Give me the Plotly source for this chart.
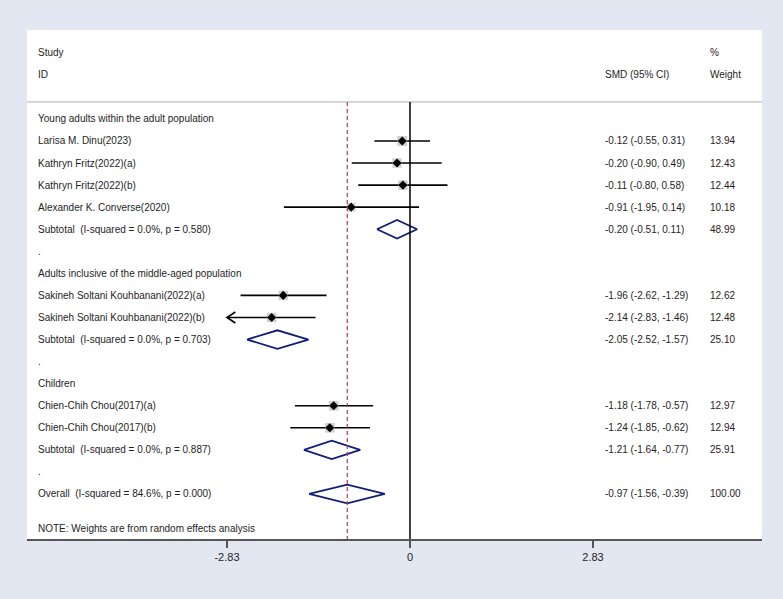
import plotly.graph_objects as go

# ---------------- data ----------------
studies = ["Larisa M. Dinu(2023)", "Kathryn Fritz(2022)(a)", "Kathryn Fritz(2022)(b)",
           "Alexander K. Converse(2020)", "Sakineh Soltani Kouhbanani(2022)(a)",
           "Sakineh Soltani Kouhbanani(2022)(b)", "Chien-Chih Chou(2017)(a)",
           "Chien-Chih Chou(2017)(b)"]
study_rows = [1, 2, 3, 4, 8, 9, 13, 14]
smd = [-0.12, -0.20, -0.11, -0.91, -1.96, -2.14, -1.18, -1.24]
ci_lo = [-0.55, -0.90, -0.80, -1.95, -2.62, -2.83, -1.78, -1.85]
ci_hi = [0.31, 0.49, 0.58, 0.14, -1.29, -1.46, -0.57, -0.62]
weights = [13.94, 12.43, 12.44, 10.18, 12.62, 12.48, 12.97, 12.94]

groups = ["Young adults within the adult population",
          "Adults inclusive of the middle-aged population", "Children"]
group_rows = [0, 7, 12]

pooled_labels = ["Subtotal  (I-squared = 0.0%, p = 0.580)",
                 "Subtotal  (I-squared = 0.0%, p = 0.703)",
                 "Subtotal  (I-squared = 0.0%, p = 0.887)",
                 "Overall  (I-squared = 84.6%, p = 0.000)"]
pooled_rows = [5, 10, 15, 17]
pooled_est = [-0.20, -2.05, -1.21, -0.97]
pooled_lo = [-0.51, -2.52, -1.64, -1.56]
pooled_hi = [0.11, -1.57, -0.77, -0.39]
pooled_w = [48.99, 25.10, 25.91, 100.00]

dot_rows = [6, 11, 16]
tick_vals = [-2.83, 0, 2.83]
tick_text = ["-2.83", "0", "2.83"]
axis_min = -2.83
overall_est = -0.97

# ---------------- layout constants ----------------
XR = [-5.922, 5.443]
YR = [19.04, -4.03]
HDR = -0.77
TXT = "#1e1e1e"
BG = "#e2e7f1"
FONT = dict(family="Liberation Sans, Arial, sans-serif", size=10, color=TXT)
DIAMOND = "#101c7a"

fig = go.Figure()

# CI lines
for i in range(len(studies)):
    fig.add_trace(go.Scatter(x=[ci_lo[i], ci_hi[i]], y=[study_rows[i]] * 2, mode="lines",
                             line=dict(color="black", width=1.6), hoverinfo="skip",
                             showlegend=False))
    if ci_lo[i] <= axis_min:
        dx, dy = 0.13, 0.25
        fig.add_trace(go.Scatter(x=[ci_lo[i] + dx, ci_lo[i], ci_lo[i] + dx],
                                 y=[study_rows[i] - dy, study_rows[i], study_rows[i] + dy],
                                 mode="lines", line=dict(color="black", width=1.6),
                                 hoverinfo="skip", showlegend=False))

# weight squares
wmax = max(weights)
fig.add_trace(go.Scatter(x=smd, y=study_rows, mode="markers",
                         marker=dict(symbol="square", color="#bdbdbd",
                                     size=[10 * (w / wmax) ** 0.5 for w in weights],
                                     line=dict(width=0)),
                         hoverinfo="skip", showlegend=False))
# point estimates
fig.add_trace(go.Scatter(x=smd, y=study_rows, mode="markers",
                         marker=dict(symbol="diamond", color="black", size=7),
                         hoverinfo="skip", showlegend=False))

# pooled diamonds
h = 0.42
for i in range(len(pooled_est)):
    r = pooled_rows[i]
    fig.add_trace(go.Scatter(x=[pooled_lo[i], pooled_est[i], pooled_hi[i], pooled_est[i], pooled_lo[i]],
                             y=[r, r - h, r, r + h, r], mode="lines",
                             line=dict(color=DIAMOND, width=1.8), hoverinfo="skip",
                             showlegend=False))

shapes = [
    dict(type="line", xref="paper", x0=0, x1=1, yref="y", y0=HDR, y1=HDR,
         line=dict(color="#b0b0b0", width=1)),
    dict(type="line", xref="x", x0=0, x1=0, yref="y", y0=HDR, y1=YR[0],
         line=dict(color="black", width=1.5)),
    dict(type="line", xref="x", x0=overall_est, x1=overall_est, yref="y", y0=HDR, y1=YR[0],
         line=dict(color="#a8404c", width=1.2, dash="4px,3px")),
]

ann = []
def txt(x, y, s):
    ann.append(dict(xref="paper", yref="y", x=x, y=y, text=s, showarrow=False,
                    xanchor="left", yanchor="middle", font=FONT))

XS, XC, XW = 0.0122, 0.783, 0.927
txt(XS, -2.99, "Study")
txt(XS, -2.0, "ID")
txt(XC, -2.0, "SMD (95% CI)")
txt(XW, -2.99, "%")
txt(XW, -2.0, "Weight")
for g, r in zip(groups, group_rows):
    txt(XS, r, g)
for i, s in enumerate(studies):
    txt(XS, study_rows[i], s)
    txt(XC, study_rows[i], f"{smd[i]:.2f} ({ci_lo[i]:.2f}, {ci_hi[i]:.2f})")
    txt(XW, study_rows[i], f"{weights[i]:.2f}")
for i, s in enumerate(pooled_labels):
    txt(XS, pooled_rows[i], s)
    txt(XC, pooled_rows[i], f"{pooled_est[i]:.2f} ({pooled_lo[i]:.2f}, {pooled_hi[i]:.2f})")
    txt(XW, pooled_rows[i], f"{pooled_w[i]:.2f}")
for r in dot_rows:
    txt(XS, r, ".")
txt(XS, 18.55, "NOTE: Weights are from random effects analysis")

fig.update_layout(
    width=783, height=599,
    margin=dict(l=27, r=21, t=30, b=60),
    paper_bgcolor=BG, plot_bgcolor="white",
    shapes=shapes, annotations=ann,
    xaxis=dict(range=XR, tickvals=tick_vals, ticktext=tick_text, showgrid=False,
               zeroline=False, showline=True, linecolor="#555555", linewidth=2,
               ticks="outside", ticklen=7, tickwidth=2, tickcolor="#555555",
               tickfont=dict(family="Liberation Sans, Arial, sans-serif", size=11, color=TXT),
               fixedrange=True),
    yaxis=dict(range=YR, showgrid=False, zeroline=False, showticklabels=False,
               showline=False, fixedrange=True),
    font=FONT,
)

fig.write_html("out.html",
               config={"displayModeBar": False},
               post_script="document.body.style.margin='0';"
                           "document.body.style.background='" + BG + "';"
                           "document.body.style.overflow='hidden';")
